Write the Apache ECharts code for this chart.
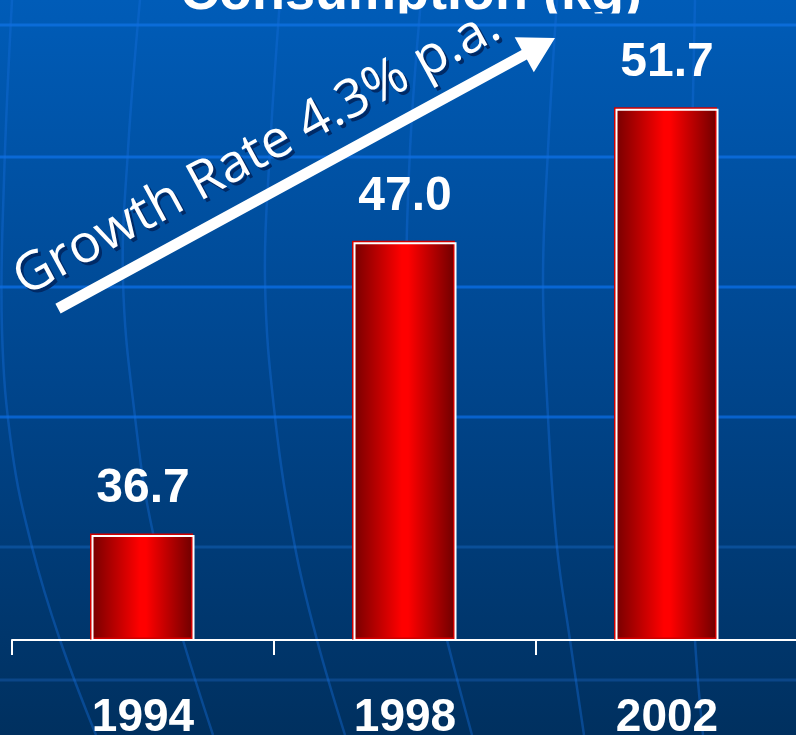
<!DOCTYPE html>
<html>
<head>
<meta charset="utf-8">
<script src="https://cdn.jsdelivr.net/npm/echarts@6/dist/echarts.min.js"></script>
<style>
html,body{margin:0;padding:0;width:796px;height:735px;overflow:hidden;background:#004080;}
#c{width:796px;height:735px;}
</style>
</head>
<body>
<div id="c"></div>
<script>
// ---- data ----
const categories = ['1994', '1998', '2002'];
const consumption = [36.7, 47.0, 51.7];
const titleText = 'Consumption (kg)';
const growthText = 'Growth Rate 4.3% p.a.';

// ---- decoration (background globe grid) ----
const latitudeLines = [
  [25, '#0b6cd8'], [157, '#0a69d6'], [287, '#0866d4'],
  [417, '#0862cc'], [547, '#0a4f98'], [680, '#0b4688']
];
const meridians = [
  [[12,0],[4,180],[2,330],[12,450],[32,547],[60,640],[96,735]],
  [[140,0],[128,150],[123,280],[135,417],[153,533],[183,640],[213,735]],
  [[280,0],[270,150],[265,280],[275,417],[295,547],[317,640],[345,735]],
  [[421,0],[410,150],[406,300],[410,417],[425,547],[447,640],[472,735]],
  [[557,0],[548,150],[543,280],[548,417],[557,547],[570,640],[584,735]],
  [[695,0],[692,150],[690,300],[691,417],[692,547],[695,640],[703,735]]
];

const chart = echarts.init(document.getElementById('c'), null, {renderer: 'canvas'});

// arrow geometry
function arrowPoints(sx, sy, tx, ty, halfShaft, headLen, headHalf) {
  const dx = tx - sx, dy = ty - sy, L = Math.hypot(dx, dy);
  const ux = dx / L, uy = dy / L;
  const nx = -uy, ny = ux;
  const bx = tx - headLen * ux, by = ty - headLen * uy;
  return [
    [sx - halfShaft * nx, sy - halfShaft * ny],
    [bx - halfShaft * nx, by - halfShaft * ny],
    [bx - headHalf * nx, by - headHalf * ny],
    [tx, ty],
    [bx + headHalf * nx, by + headHalf * ny],
    [bx + halfShaft * nx, by + halfShaft * ny],
    [sx + halfShaft * nx, sy + halfShaft * ny]
  ];
}
const arrowStart = [58, 308.6], arrowTip = [555, 38];
const ang = Math.atan2(arrowStart[1] - arrowTip[1], arrowTip[0] - arrowStart[0]);

const graphics = [
  {
    type: 'rect', z: -10, silent: true,
    shape: {x: 0, y: 0, width: 796, height: 735},
    style: {fill: new echarts.graphic.LinearGradient(0, 0, 0, 1, [
      {offset: 0, color: '#005cb8'},
      {offset: 0.5, color: '#00468e'},
      {offset: 1, color: '#00305f'}
    ])}
  }
];
latitudeLines.forEach(([y, c]) => graphics.push({
  type: 'line', z: -9, silent: true,
  shape: {x1: 0, y1: y, x2: 796, y2: y},
  style: {stroke: c, lineWidth: 3}
}));
meridians.forEach(pts => graphics.push({
  type: 'polyline', z: -9, silent: true,
  shape: {points: pts, smooth: 0.4},
  style: {stroke: 'rgba(20,110,220,0.4)', lineWidth: 2.5, fill: null}
}));
graphics.push({
  type: 'polygon', z: 20, silent: true,
  shape: {points: arrowPoints(arrowStart[0], arrowStart[1], arrowTip[0], arrowTip[1], 5.5, 35, 20)},
  style: {fill: '#ffffff'}
});
const textCenter = [257, 153];
graphics.push({
  type: 'text', z: 20, silent: true,
  x: textCenter[0] + 3, y: textCenter[1] + 3, rotation: ang,
  style: {text: growthText, fill: '#002a66', font: '53px "Open Sans"', align: 'center', verticalAlign: 'middle'}
});
graphics.push({
  type: 'text', z: 21, silent: true,
  x: textCenter[0], y: textCenter[1], rotation: ang,
  style: {text: growthText, fill: '#ffffff', font: '53px "Open Sans"', align: 'center', verticalAlign: 'middle'}
});

const option = {
  animation: false,
  grid: {left: 12, right: -2, top: 15, bottom: 95, containLabel: false, outerBoundsMode: 'none'},
  xAxis: {
    type: 'category',
    data: categories,
    axisLine: {show: true, lineStyle: {color: '#ffffff', width: 2}},
    axisTick: {show: true, alignWithLabel: false, length: 15, lineStyle: {color: '#ffffff', width: 2}},
    axisLabel: {color: '#ffffff', fontSize: 46, fontWeight: 'bold', fontFamily: '"Liberation Sans", Arial', margin: 55},
    splitLine: {show: false}
  },
  yAxis: {type: 'value', min: 33, max: 55, show: false},
  graphic: {elements: graphics},
  series: [{
    type: 'bar',
    data: consumption,
    barWidth: 103,
    emphasis: {disabled: true},
    itemStyle: {
      color: new echarts.graphic.LinearGradient(0, 0, 1, 0, [
        {offset: 0, color: '#760000'},
        {offset: 0.47, color: '#ff0000'},
        {offset: 0.53, color: '#ff0000'},
        {offset: 1, color: '#6a0000'}
      ]),
      borderColor: '#ffffff',
      borderWidth: 2,
      shadowColor: '#d00000',
      shadowOffsetX: -1.5,
      shadowOffsetY: -1.5,
      shadowBlur: 0
    },
    label: {
      show: true, position: 'top', distance: 22,
      color: '#ffffff', fontSize: 48, fontWeight: 'bold',
      fontFamily: '"Liberation Sans", Arial',
      formatter: p => p.value.toFixed(1)
    }
  }]
};
chart.setOption(option);

// clipped title (only its lower part is visible)
const title = new echarts.graphic.Text({
  z: 50, silent: true,
  style: {text: titleText, x: 411, y: -6.2, fill: '#ffffff', font: 'bold 54px "Liberation Sans", Arial', align: 'center', verticalAlign: 'middle'}
});
title.setClipPath(new echarts.graphic.Rect({shape: {x: 0, y: 0, width: 796, height: 13.5}}));
chart.getZr().add(title);
</script>
</body>
</html>
